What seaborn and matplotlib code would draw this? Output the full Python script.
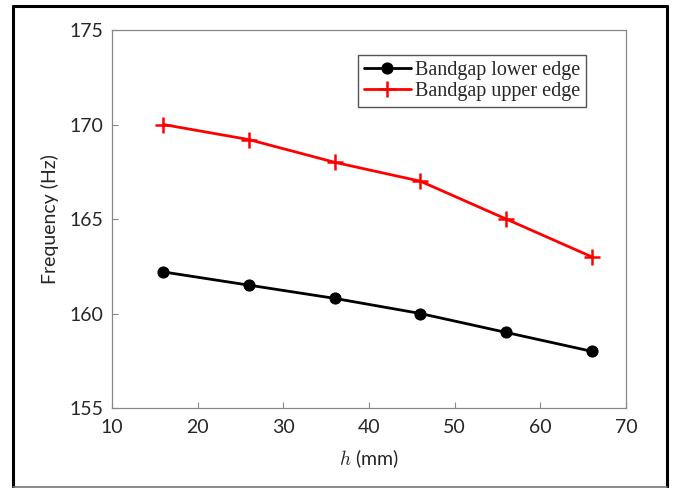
import numpy as np
import pandas as pd
import matplotlib
matplotlib.use('Agg')
import matplotlib.pyplot as plt
import seaborn as sns
from matplotlib.lines import Line2D

h_mm = [16, 26, 36, 46, 56, 66]
lower_edge = [162.2, 161.5, 160.8, 160.0, 159.0, 158.0]
upper_edge = [170.0, 169.2, 168.0, 167.0, 165.0, 163.0]
x_ticks = [10, 20, 30, 40, 50, 60, 70]
y_ticks = [155, 160, 165, 170, 175]

sns.set_style('white')
plt.rcParams['font.family'] = ['Lato', 'DejaVu Sans']
plt.rcParams['mathtext.fontset'] = 'cm'

fig = plt.figure(figsize=(6.74, 4.88), dpi=100)
ax = fig.add_axes([0.1662, 0.1639, 0.7626, 0.7746])

df = pd.DataFrame({'h': h_mm, 'lower': lower_edge, 'upper': upper_edge})
sns.lineplot(data=df, x='h', y='lower', ax=ax, color='black', lw=2,
             marker='o', markersize=8, markeredgecolor='black',
             label='Bandgap lower edge')
sns.lineplot(data=df, x='h', y='upper', ax=ax, color='red', lw=2,
             marker='+', markersize=11, markeredgewidth=1.8, markeredgecolor='red',
             label='Bandgap upper edge')

ax.set_xlim(10, 70)
ax.set_ylim(155, 175)
ax.set_xticks(x_ticks)
ax.set_yticks(y_ticks)
ax.tick_params(direction='in', length=4, width=0.8, color='#888888',
               labelsize=14, pad=6, bottom=True, left=True, top=False, right=False)
ax.tick_params(axis='x', pad=8)
for s in ax.spines.values():
    s.set_color('#888888')
    s.set_linewidth(0.9)

ax.set_xlabel(r'$h$ (mm)', fontsize=14, labelpad=8)
ax.set_ylabel('Frequency (Hz)', fontsize=14, labelpad=8)

leg = ax.legend(loc='upper right', bbox_to_anchor=(0.922, 0.935),
                prop={'family': 'Liberation Serif', 'size': 14.5},
                frameon=True, fancybox=False, framealpha=1, edgecolor='#555555',
                handlelength=2.3, handletextpad=0.2, borderpad=0.3,
                labelspacing=0.1, borderaxespad=0)
leg.get_frame().set_linewidth(1.0)

# outer figure frame
W, H = 674, 488
frame = [((13, 13), (6, 487), 'black', 2.2),
         ((13, 667), (6, 6), 'black', 2.2),
         ((667, 667), (6, 487), 'black', 2.2),
         ((13, 667), (487, 487), '#777777', 1.2)]
for xs, ys, c, w in frame:
    fig.add_artist(Line2D([x / W for x in xs], [1 - y / H for y in ys],
                          transform=fig.transFigure, color=c, lw=w))

fig.savefig('out.png', dpi=100)
